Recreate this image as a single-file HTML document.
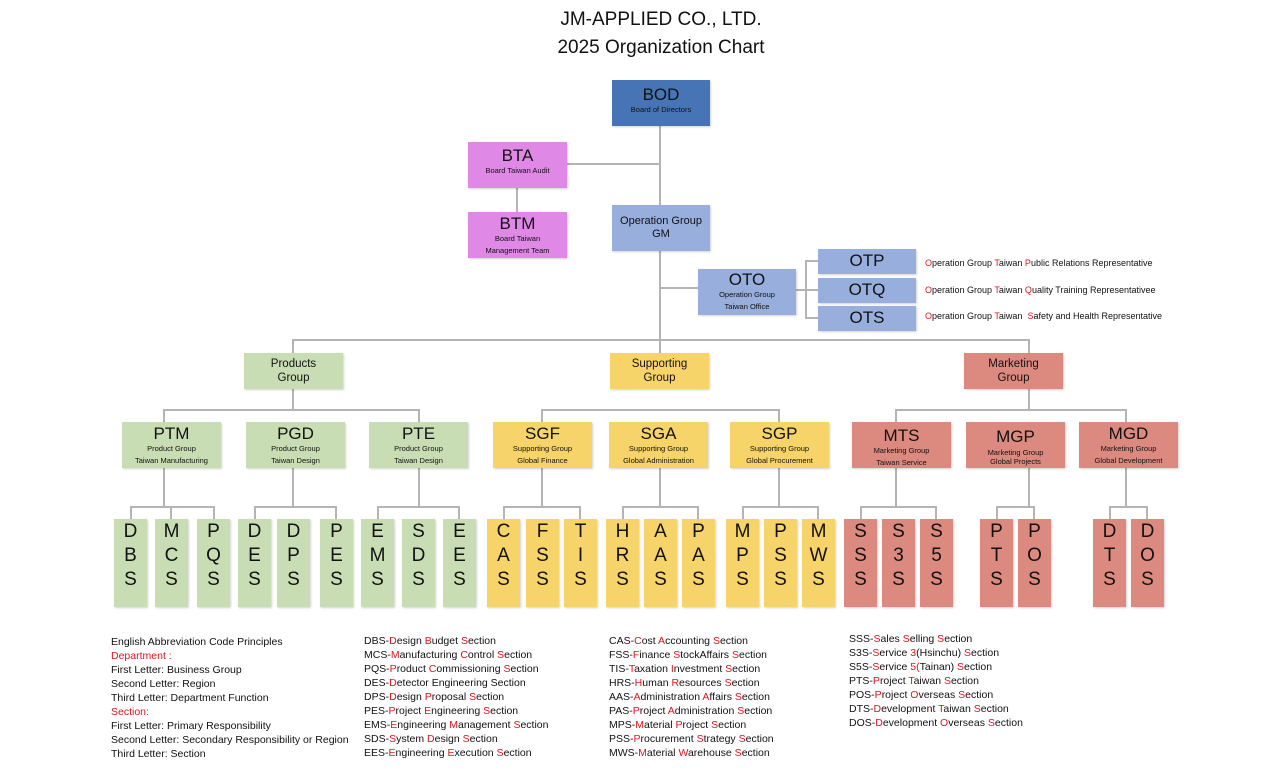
<!DOCTYPE html>
<html><head><meta charset="utf-8">
<style>
body{margin:0;width:1262px;height:770px;background:#fff;position:relative;overflow:hidden;font-family:"Liberation Sans",sans-serif;color:#111}
.b{position:absolute;box-sizing:border-box;text-align:center;box-shadow:1px 1px 2px rgba(0,0,0,.18)}
.l{position:absolute;background:#b4b4b4}
.ab{font-size:17px;line-height:18px;padding-top:3px}
.sm{font-size:7.5px;line-height:12px}
.g{background:#c9ddb4}.y{background:#f6d469}.r{background:#dc8a80}.p{background:#df88e6}.lb{background:#98aedc}
.s{font-size:19px;line-height:24px;padding-top:1px}
.t{position:absolute;font-size:10.5px;line-height:14px;white-space:nowrap}
.t span,.red{color:#e0141e}
</style></head><body>
<div style="position:absolute;left:0;width:1322px;top:6px;text-align:center;font-size:19px;line-height:28px">JM-APPLIED CO., LTD.<br>2025 Organization Chart</div>

<div class="l" style="left:659px;top:125px;width:2px;height:228px"></div>
<div class="l" style="left:566px;top:163px;width:94px;height:2px"></div>
<div class="l" style="left:516px;top:187px;width:2px;height:25px"></div>
<div class="l" style="left:660px;top:287px;width:38px;height:2px"></div>
<div class="l" style="left:796px;top:289px;width:10px;height:2px"></div>
<div class="l" style="left:805px;top:260px;width:2px;height:59px"></div>
<div class="l" style="left:806px;top:260px;width:12px;height:2px"></div>
<div class="l" style="left:806px;top:289px;width:12px;height:2px"></div>
<div class="l" style="left:806px;top:317px;width:12px;height:2px"></div>
<div class="l" style="left:292px;top:339px;width:738px;height:2px"></div>
<div class="l" style="left:292px;top:339px;width:2px;height:71px"></div>
<div class="l" style="left:1028px;top:339px;width:2px;height:71px"></div>
<div class="l" style="left:163px;top:409px;width:257px;height:2px"></div>
<div class="l" style="left:541px;top:409px;width:239px;height:2px"></div>
<div class="l" style="left:895px;top:409px;width:232px;height:2px"></div>
<div class="l" style="left:163px;top:409px;width:2px;height:13px"></div>
<div class="l" style="left:418px;top:409px;width:2px;height:13px"></div>
<div class="l" style="left:541px;top:409px;width:2px;height:13px"></div>
<div class="l" style="left:778px;top:409px;width:2px;height:13px"></div>
<div class="l" style="left:895px;top:409px;width:2px;height:13px"></div>
<div class="l" style="left:1125px;top:409px;width:2px;height:13px"></div>
<div class="l" style="left:163px;top:468px;width:2px;height:40px"></div>
<div class="l" style="left:292px;top:468px;width:2px;height:40px"></div>
<div class="l" style="left:418px;top:468px;width:2px;height:40px"></div>
<div class="l" style="left:541px;top:468px;width:2px;height:40px"></div>
<div class="l" style="left:659px;top:468px;width:2px;height:40px"></div>
<div class="l" style="left:778px;top:468px;width:2px;height:40px"></div>
<div class="l" style="left:895px;top:468px;width:2px;height:40px"></div>
<div class="l" style="left:1028px;top:468px;width:2px;height:40px"></div>
<div class="l" style="left:1125px;top:468px;width:2px;height:40px"></div>
<div class="l" style="left:130px;top:506px;width:85px;height:2px"></div>
<div class="l" style="left:254px;top:506px;width:83px;height:2px"></div>
<div class="l" style="left:377px;top:506px;width:83px;height:2px"></div>
<div class="l" style="left:503px;top:506px;width:78px;height:2px"></div>
<div class="l" style="left:622px;top:506px;width:77px;height:2px"></div>
<div class="l" style="left:742px;top:506px;width:77px;height:2px"></div>
<div class="l" style="left:860px;top:506px;width:77px;height:2px"></div>
<div class="l" style="left:996px;top:506px;width:39px;height:2px"></div>
<div class="l" style="left:1109px;top:506px;width:39px;height:2px"></div>
<div class="l" style="left:130px;top:506px;width:2px;height:14px"></div><div class="l" style="left:170px;top:506px;width:2px;height:14px"></div><div class="l" style="left:213px;top:506px;width:2px;height:14px"></div>
<div class="l" style="left:254px;top:506px;width:2px;height:14px"></div><div class="l" style="left:335px;top:506px;width:2px;height:14px"></div>
<div class="l" style="left:377px;top:506px;width:2px;height:14px"></div><div class="l" style="left:458px;top:506px;width:2px;height:14px"></div>
<div class="l" style="left:503px;top:506px;width:2px;height:14px"></div><div class="l" style="left:579px;top:506px;width:2px;height:14px"></div>
<div class="l" style="left:622px;top:506px;width:2px;height:14px"></div><div class="l" style="left:697px;top:506px;width:2px;height:14px"></div>
<div class="l" style="left:742px;top:506px;width:2px;height:14px"></div><div class="l" style="left:817px;top:506px;width:2px;height:14px"></div>
<div class="l" style="left:860px;top:506px;width:2px;height:14px"></div><div class="l" style="left:935px;top:506px;width:2px;height:14px"></div>
<div class="l" style="left:996px;top:506px;width:2px;height:14px"></div><div class="l" style="left:1033px;top:506px;width:2px;height:14px"></div>
<div class="l" style="left:1109px;top:506px;width:2px;height:14px"></div><div class="l" style="left:1146px;top:506px;width:2px;height:14px"></div>

<div class="b" style="left:612px;top:80px;width:98px;height:46px;background:#4674b5"><div class="ab" style="padding-top:6px">BOD</div><div class="sm">Board of Directors</div></div>
<div class="b p" style="left:468px;top:142px;width:99px;height:46px"><div class="ab" style="padding-top:5px">BTA</div><div class="sm">Board Taiwan Audit</div></div>
<div class="b p" style="left:468px;top:212px;width:99px;height:46px"><div class="ab">BTM</div><div class="sm" style="line-height:12px">Board Taiwan<br>Management Team</div></div>
<div class="b lb" style="left:612px;top:205px;width:98px;height:46px;font-size:11px;line-height:13px;padding-top:10px">Operation Group<br>GM</div>
<div class="b lb" style="left:698px;top:269px;width:98px;height:46px"><div class="ab" style="padding-top:2px">OTO</div><div class="sm">Operation Group<br>Taiwan Office</div></div>
<div class="b lb ab" style="left:818px;top:249px;width:98px;height:25px;padding-top:3px">OTP</div>
<div class="b lb ab" style="left:818px;top:278px;width:98px;height:25px;padding-top:3px">OTQ</div>
<div class="b lb ab" style="left:818px;top:306px;width:98px;height:25px;padding-top:3px">OTS</div>
<div class="t" style="left:925px;top:256px;font-size:9px"><span>O</span>peration Group <span>T</span>aiwan <span>P</span>ublic Relations Representative</div>
<div class="t" style="left:925px;top:283px;font-size:9px"><span>O</span>peration Group <span>T</span>aiwan <span>Q</span>uality Training Representativee</div>
<div class="t" style="left:925px;top:309px;font-size:9px"><span>O</span>peration Group <span>T</span>aiwan &nbsp;<span>S</span>afety and Health Representative</div>

<div class="b g" style="left:244px;top:353px;width:99px;height:36px;font-size:11.5px;line-height:14px;padding-top:4px">Products<br>Group</div>
<div class="b y" style="left:610px;top:353px;width:99px;height:36px;font-size:11.5px;line-height:14px;padding-top:4px">Supporting<br>Group</div>
<div class="b r" style="left:964px;top:353px;width:99px;height:36px;font-size:11.5px;line-height:14px;padding-top:4px">Marketing<br>Group</div>

<div class="b g" style="left:122px;top:422px;width:99px;height:46px"><div class="ab">PTM</div><div class="sm">Product Group<br>Taiwan Manufacturing</div></div>
<div class="b g" style="left:246px;top:422px;width:99px;height:46px"><div class="ab">PGD</div><div class="sm">Product Group<br>Taiwan Design</div></div>
<div class="b g" style="left:369px;top:422px;width:99px;height:46px"><div class="ab">PTE</div><div class="sm">Product Group<br>Taiwan Design</div></div>
<div class="b y" style="left:493px;top:422px;width:99px;height:46px"><div class="ab">SGF</div><div class="sm">Supporting Group<br>Global Finance</div></div>
<div class="b y" style="left:609px;top:422px;width:99px;height:46px"><div class="ab">SGA</div><div class="sm">Supporting Group<br>Global Administration</div></div>
<div class="b y" style="left:730px;top:422px;width:99px;height:46px"><div class="ab">SGP</div><div class="sm">Supporting Group<br>Global Procurement</div></div>
<div class="b r" style="left:852px;top:422px;width:99px;height:46px"><div class="ab" style="padding-top:5px">MTS</div><div class="sm">Marketing Group<br>Taiwan Service</div></div>
<div class="b r" style="left:966px;top:422px;width:99px;height:46px"><div class="ab" style="padding-top:6px">MGP</div><div class="sm" style="line-height:9px;padding-top:2px">Marketing Group<br>Global Projects</div></div>
<div class="b r" style="left:1079px;top:422px;width:99px;height:46px"><div class="ab">MGD</div><div class="sm">Marketing Group<br>Global Development</div></div>

<div class="b g s" style="left:114px;top:519px;width:33px;height:88px">D<br>B<br>S</div>
<div class="b g s" style="left:155px;top:519px;width:33px;height:88px">M<br>C<br>S</div>
<div class="b g s" style="left:197px;top:519px;width:33px;height:88px">P<br>Q<br>S</div>
<div class="b g s" style="left:238px;top:519px;width:33px;height:88px">D<br>E<br>S</div>
<div class="b g s" style="left:277px;top:519px;width:33px;height:88px">D<br>P<br>S</div>
<div class="b g s" style="left:320px;top:519px;width:33px;height:88px">P<br>E<br>S</div>
<div class="b g s" style="left:361px;top:519px;width:33px;height:88px">E<br>M<br>S</div>
<div class="b g s" style="left:402px;top:519px;width:33px;height:88px">S<br>D<br>S</div>
<div class="b g s" style="left:443px;top:519px;width:33px;height:88px">E<br>E<br>S</div>
<div class="b y s" style="left:487px;top:519px;width:33px;height:88px">C<br>A<br>S</div>
<div class="b y s" style="left:526px;top:519px;width:33px;height:88px">F<br>S<br>S</div>
<div class="b y s" style="left:564px;top:519px;width:33px;height:88px">T<br>I<br>S</div>
<div class="b y s" style="left:606px;top:519px;width:33px;height:88px">H<br>R<br>S</div>
<div class="b y s" style="left:644px;top:519px;width:33px;height:88px">A<br>A<br>S</div>
<div class="b y s" style="left:682px;top:519px;width:33px;height:88px">P<br>A<br>S</div>
<div class="b y s" style="left:726px;top:519px;width:33px;height:88px">M<br>P<br>S</div>
<div class="b y s" style="left:764px;top:519px;width:33px;height:88px">P<br>S<br>S</div>
<div class="b y s" style="left:802px;top:519px;width:33px;height:88px">M<br>W<br>S</div>
<div class="b r s" style="left:844px;top:519px;width:33px;height:88px">S<br>S<br>S</div>
<div class="b r s" style="left:882px;top:519px;width:33px;height:88px">S<br>3<br>S</div>
<div class="b r s" style="left:920px;top:519px;width:33px;height:88px">S<br>5<br>S</div>
<div class="b r s" style="left:980px;top:519px;width:33px;height:88px">P<br>T<br>S</div>
<div class="b r s" style="left:1018px;top:519px;width:33px;height:88px">P<br>O<br>S</div>
<div class="b r s" style="left:1093px;top:519px;width:33px;height:88px">D<br>T<br>S</div>
<div class="b r s" style="left:1131px;top:519px;width:33px;height:88px">D<br>O<br>S</div>

<div class="t" style="left:111px;top:635px">English Abbreviation Code Principles<br><span>Department :</span><br>First Letter: Business Group<br>Second Letter: Region<br>Third Letter: Department Function<br><span>Section:</span><br>First Letter: Primary Responsibility<br>Second Letter: Secondary Responsibility or Region<br>Third Letter: Section</div>
<div class="t" style="left:364px;top:634px">DBS-<span>D</span>esign <span>B</span>udget <span>S</span>ection<br>MCS-<span>M</span>anufacturing <span>C</span>ontrol <span>S</span>ection<br>PQS-<span>P</span>roduct <span>C</span>ommissioning <span>S</span>ection<br>DES-<span>D</span>etector Engineering Section<br>DPS-<span>D</span>esign <span>P</span>roposal <span>S</span>ection<br>PES-<span>P</span>roject <span>E</span>ngineering <span>S</span>ection<br>EMS-<span>E</span>ngineering <span>M</span>anagement <span>S</span>ection<br>SDS-<span>S</span>ystem <span>D</span>esign <span>S</span>ection<br>EES-<span>E</span>ngineering <span>E</span>xecution <span>S</span>ection</div>
<div class="t" style="left:609px;top:634px">CAS-<span>C</span>ost <span>A</span>ccounting <span>S</span>ection<br>FSS-<span>F</span>inance <span>S</span>tockAffairs <span>S</span>ection<br>TIS-<span>T</span>axation <span>I</span>nvestment <span>S</span>ection<br>HRS-<span>H</span>uman <span>R</span>esources <span>S</span>ection<br>AAS-<span>A</span>dministration <span>A</span>ffairs <span>S</span>ection<br>PAS-<span>P</span>roject <span>A</span>dministration <span>S</span>ection<br>MPS-<span>M</span>aterial <span>P</span>roject <span>S</span>ection<br>PSS-<span>P</span>rocurement <span>S</span>trategy <span>S</span>ection<br>MWS-<span>M</span>aterial <span>W</span>arehouse <span>S</span>ection</div>
<div class="t" style="left:849px;top:632px">SSS-<span>S</span>ales <span>S</span>elling <span>S</span>ection<br>S3S-<span>S</span>ervice <span>3</span>(Hsinchu) <span>S</span>ection<br>S5S-<span>S</span>ervice <span>5(</span>Tainan) <span>S</span>ection<br>PTS-<span>P</span>roject <span>T</span>aiwan <span>S</span>ection<br>POS-<span>P</span>roject <span>O</span>verseas <span>S</span>ection<br>DTS-<span>D</span>evelopment <span>T</span>aiwan <span>S</span>ection<br>DOS-<span>D</span>evelopment <span>O</span>verseas <span>S</span>ection</div>
</body></html>
